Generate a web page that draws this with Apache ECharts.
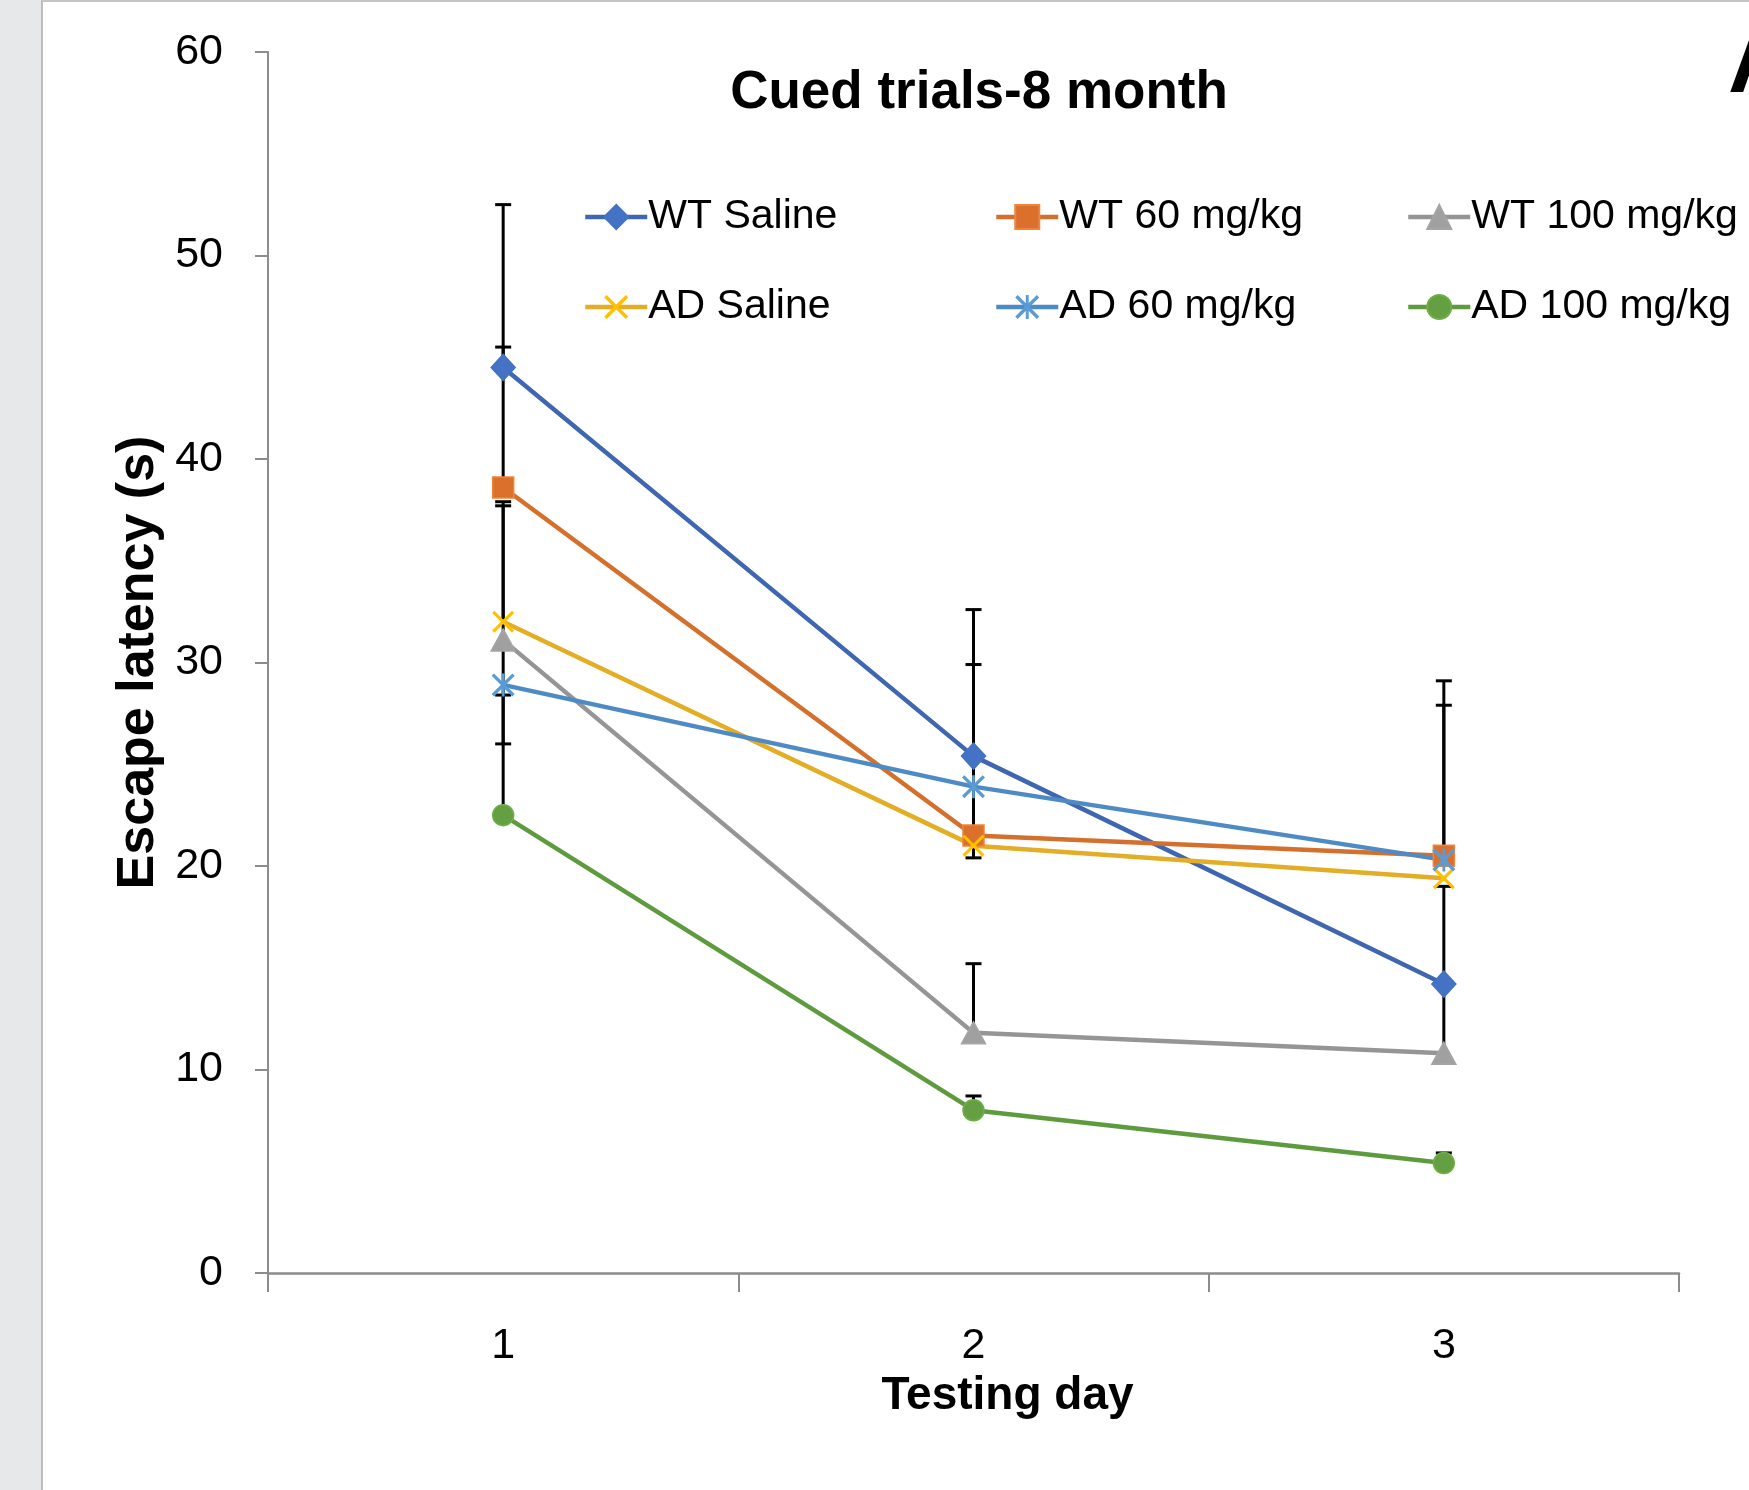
<!DOCTYPE html>
<html>
<head>
<meta charset="utf-8">
<script src="https://cdn.jsdelivr.net/npm/echarts@6/dist/echarts.min.js"></script>
<style>
html,body{margin:0;padding:0;background:#fff;}
#chart{width:1749px;height:1490px;}
</style>
</head>
<body>
<div id="chart"></div>
<script>
// ---- data ----
const days = ['1', '2', '3'];
const seriesNames = ['WT Saline', 'WT 60 mg/kg', 'WT 100 mg/kg', 'AD Saline', 'AD 60 mg/kg', 'AD 100 mg/kg'];
const wtSaline = [44.5, 25.4, 14.2];
const wt60 = [38.6, 21.5, 20.5];
const wt100 = [31.1, 11.8, 10.8];
const adSaline = [32.0, 21.0, 19.4];
const ad60 = [28.9, 23.9, 20.3];
const ad100 = [22.5, 8.0, 5.4];
// error bars (upward / downward magnitudes)
const errPlusWtSaline = [8.0, 7.2, 4.8];
const errPlusWt60 = [6.9, 3.8, 8.6];
const errPlusWt100 = [6.6, 3.4, 3.5];
const errPlusAdSaline = [5.9, 0, 0];
const errPlusAd60 = [1.8, 6.0, 7.6];
const errPlusAd100 = [5.9, 0.7, 0.5];
const errMinusWtSaline = [0, 0, 0];
const errMinusWt60 = [0, 0, 0];
const errMinusWt100 = [0, 0, 0];
const errMinusAdSaline = [0, 0.6, 0];
const errMinusAd60 = [2.9, 0, 0];
const errMinusAd100 = [0, 0, 0];
const yTicks = [0, 10, 20, 30, 40, 50, 60];

const FONT = "'Liberation Sans', Arial, sans-serif";
const values = [wtSaline, wt60, wt100, adSaline, ad60, ad100];
const plus = [errPlusWtSaline, errPlusWt60, errPlusWt100, errPlusAdSaline, errPlusAd60, errPlusAd100];
const minus = [errMinusWtSaline, errMinusWt60, errMinusWt100, errMinusAdSaline, errMinusAd60, errMinusAd100];

const xPath = 'path://M0,10 L10,0 L100,90 L90,100 Z M90,0 L100,10 L10,100 L0,90 Z';
const starPath = 'path://M0,10 L10,0 L100,90 L90,100 Z M90,0 L100,10 L10,100 L0,90 Z M44,0 L56,0 L56,100 L44,100 Z';

const styles = [
  {line: '#3F67B1', fill: '#4472C4', border: '#4472C4', symbol: 'diamond', size: [24, 26]},
  {line: '#D4702C', fill: '#DA702C', border: '#F0843C', symbol: 'rect', size: 21},
  {line: '#959595', fill: '#A0A0A0', border: '#A5A5A5', symbol: 'triangle', size: [24, 22]},
  {line: '#E3AE26', fill: '#FFC000', border: '#FFC000', symbol: xPath, size: 22},
  {line: '#4E8BC6', fill: '#5B9BD5', border: '#5B9BD5', symbol: starPath, size: 23},
  {line: '#5E9B3E', fill: '#64A042', border: '#70AD47', symbol: 'circle', size: 21}
];

const errData = [];
values.forEach((vals, i) => {
  vals.forEach((v, d) => {
    if (plus[i][d] > 0) errData.push([d, v, +(v + plus[i][d]).toFixed(2), 0, 1]);
    if (minus[i][d] > 0) errData.push([d, +(v - minus[i][d]).toFixed(2), v, 1, 0]);
  });
});

const lineSeries = seriesNames.map((name, i) => ({
  name: name,
  type: 'line',
  data: values[i],
  symbol: styles[i].symbol,
  symbolSize: styles[i].size,
  showAllSymbol: true,
  z: 3,
  lineStyle: {color: styles[i].line, width: 4.5},
  itemStyle: {color: styles[i].fill, borderColor: styles[i].border, borderWidth: (i === 3 || i === 4) ? 0 : 1.5},
  emphasis: {disabled: true},
  animation: false
}));

const errSeries = {
  type: 'custom',
  name: 'err',
  z: 2,
  silent: true,
  animation: false,
  encode: {x: 0, y: [1, 2]},
  data: errData,
  renderItem: function (params, api) {
    const x = api.value(0);
    const lo = api.coord([x, api.value(1)]);
    const hi = api.coord([x, api.value(2)]);
    const half = 8;
    const st = {stroke: '#000', lineWidth: 3};
    const children = [{type: 'line', shape: {x1: lo[0], y1: lo[1], x2: hi[0], y2: hi[1]}, style: st}];
    if (api.value(3)) children.push({type: 'line', shape: {x1: lo[0] - half, y1: lo[1], x2: lo[0] + half, y2: lo[1]}, style: st});
    if (api.value(4)) children.push({type: 'line', shape: {x1: hi[0] - half, y1: hi[1], x2: hi[0] + half, y2: hi[1]}, style: st});
    return {type: 'group', children: children};
  }
};

function legendCol(left, names) {
  return {
    left: left, top: 190, orient: 'vertical',
    data: names, itemWidth: 62, itemHeight: 30, itemGap: 46,
    selectedMode: false,
    lineStyle: {width: 4.5},
    textStyle: {fontFamily: FONT, fontSize: 41, color: '#000', lineHeight: 44, padding: [0, 0, 0, -4]}
  };
}

const chart = echarts.init(document.getElementById('chart'), null, {renderer: 'canvas'});
chart.setOption({
  backgroundColor: '#ffffff',
  animation: false,
  title: {
    text: 'Cued trials-8 month',
    left: 974, top: 62, textAlign: 'center',
    textStyle: {fontFamily: FONT, fontSize: 53, fontWeight: 'bold', color: '#000'}
  },
  legend: [
    legendCol(578, [seriesNames[0], seriesNames[3]]),
    legendCol(989, [seriesNames[1], seriesNames[4]]),
    legendCol(1401, [seriesNames[2], seriesNames[5]])
  ],
  grid: {left: 268, right: 70, top: 52, bottom: 217, containLabel: false},
  xAxis: {
    type: 'category', data: days, boundaryGap: true,
    name: 'Testing day', nameLocation: 'middle', nameGap: 92,
    nameTextStyle: {fontFamily: FONT, fontSize: 46, fontWeight: 'bold', color: '#000', padding: [0, 0, 0, 68]},
    axisLine: {lineStyle: {color: '#8c8c8c', width: 2.5}},
    axisTick: {show: true, length: 19, alignWithLabel: false, lineStyle: {color: '#8c8c8c', width: 2}},
    axisLabel: {fontFamily: FONT, fontSize: 43, color: '#000', margin: 52},
    splitLine: {show: false}
  },
  yAxis: {
    type: 'value', min: yTicks[0], max: yTicks[yTicks.length - 1], interval: yTicks[1] - yTicks[0],
    name: 'Escape latency (s)', nameLocation: 'middle', nameGap: 92, nameRotate: 90,
    nameTextStyle: {fontFamily: FONT, fontSize: 52, fontWeight: 'bold', color: '#000'},
    axisLine: {show: true, lineStyle: {color: '#8c8c8c', width: 2}},
    axisTick: {show: true, length: 13, lineStyle: {color: '#8c8c8c', width: 2}},
    axisLabel: {fontFamily: FONT, fontSize: 43, color: '#000', margin: 45},
    splitLine: {show: false}
  },
  graphic: [
    {type: 'rect', left: 0, top: 0, shape: {width: 41, height: 1490}, style: {fill: '#e7e8ea'}, z: 0},
    {type: 'line', shape: {x1: 42, y1: 0, x2: 42, y2: 1490}, style: {stroke: '#bdbdbd', lineWidth: 2}, z: 0},
    {type: 'line', shape: {x1: 42, y1: 1, x2: 1749, y2: 1}, style: {stroke: '#c4c4c4', lineWidth: 2}, z: 0},
    {type: 'text', x: 1728, y: 22, style: {text: 'A', fontFamily: 'Liberation Sans, Arial, sans-serif', fontSize: 90, fontWeight: 'bold', fill: '#000'}, z: 5}
  ],
  series: [errSeries].concat(lineSeries)
});
</script>
</body>
</html>
